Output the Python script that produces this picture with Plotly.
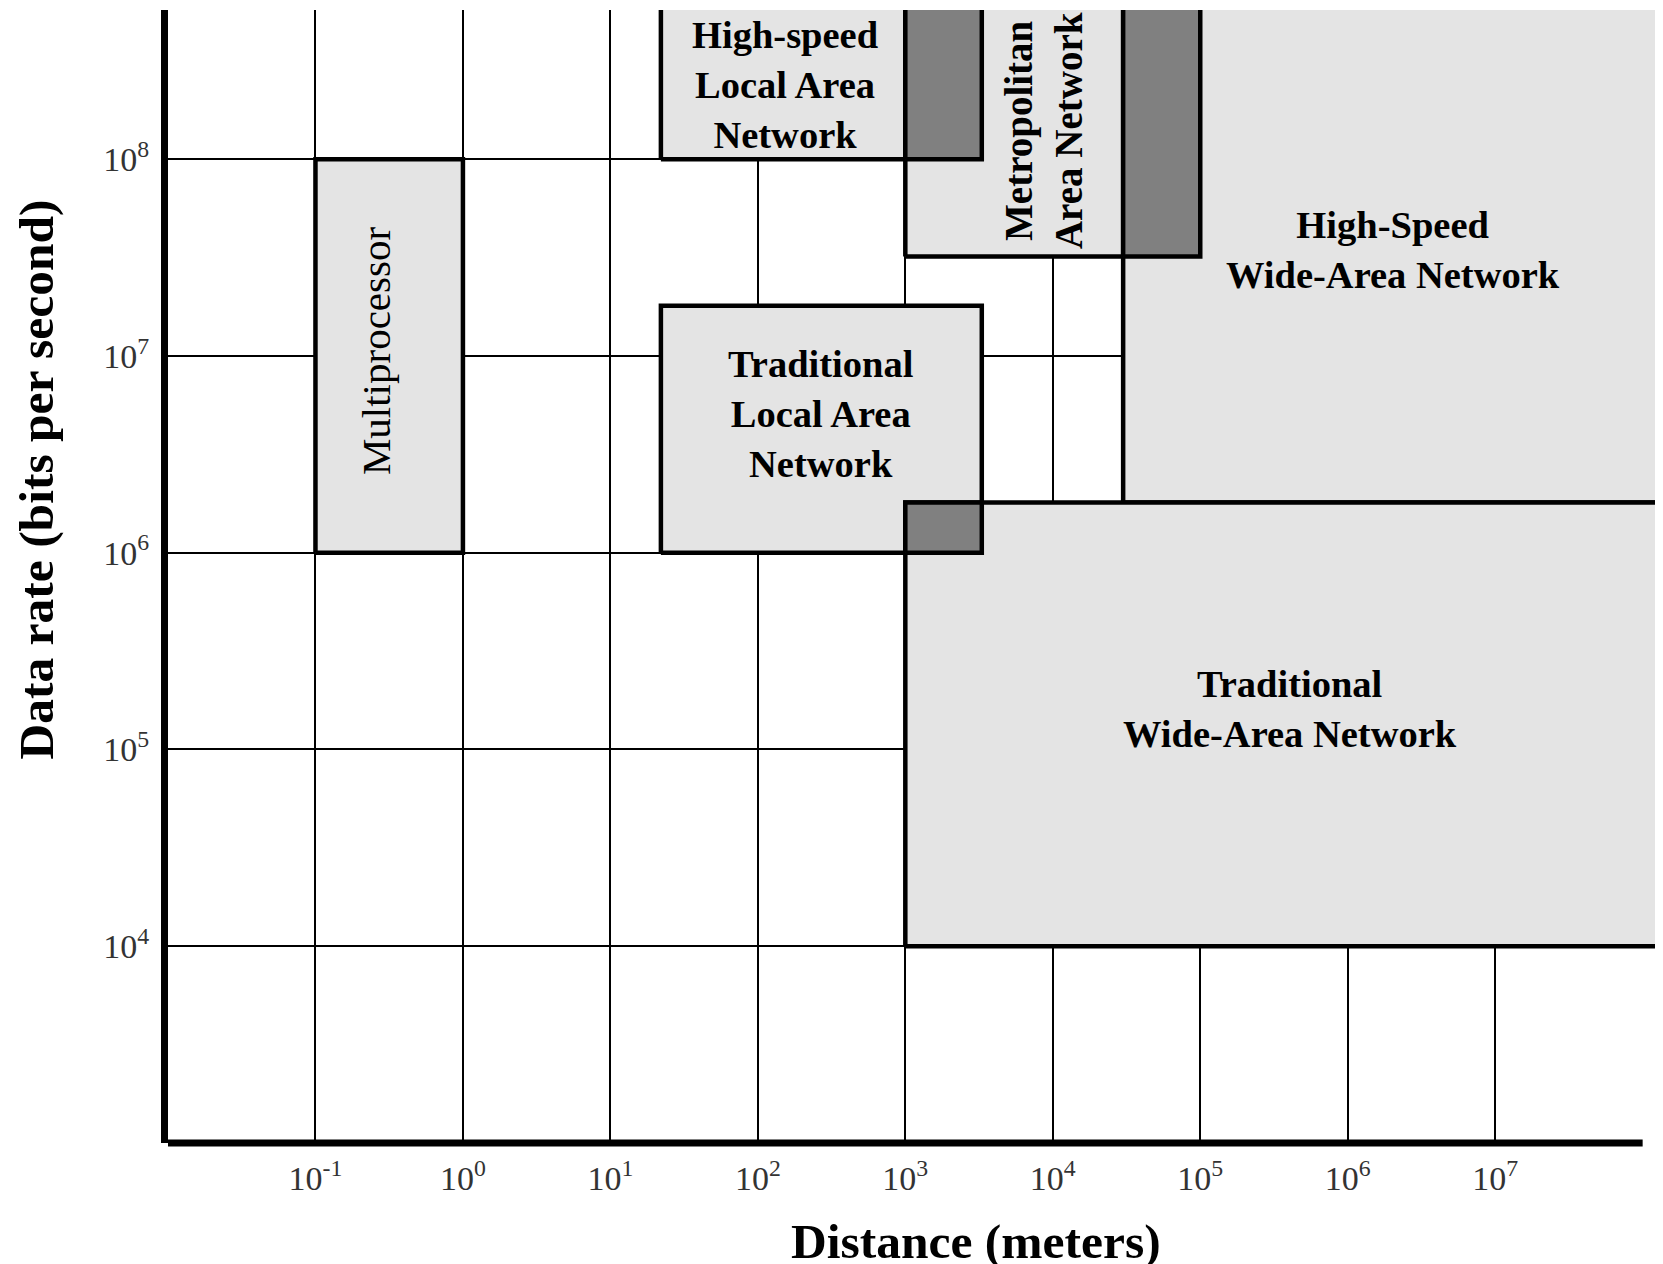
import math
import plotly.graph_objects as go

# ---------------- data ----------------
networks = [
    "Multiprocessor",
    "High-speed<br>Local Area<br>Network",
    "Traditional<br>Local Area<br>Network",
    "Metropolitan<br>Area Network",
    "High-Speed<br>Wide-Area Network",
    "Traditional<br>Wide-Area Network",
]
INF = float("inf")
dist_min = [0.1, 22, 22, 1000, 30000, 1000]          # meters
dist_max = [1, 3300, 3300, 100000, INF, INF]          # meters (inf = open ended)
rate_min = [1e6, 1e8, 1e6, 3.2e7, 1.8e6, 1e4]         # bits per second
rate_max = [1e8, INF, 1.8e7, INF, INF, 1.8e6]         # bits per second

x_tick_exp = [-1, 0, 1, 2, 3, 4, 5, 6, 7]
y_tick_exp = [4, 5, 6, 7, 8]
x_axis_end_exp = 8

# ---------------- style ----------------
X_RANGE = [-2, 8.138]
Y_RANGE = [3, 8.758]
LIGHT = "#e4e4e4"
DARK = "#808080"
SERIF = "Liberation Serif, Times New Roman, serif"
label_style = {
    0: dict(xshift=-13, yshift=5, angle=-90, weight="normal", size=41),
    1: dict(xshift=-36, yshift=0, angle=0, weight="bold", size=38.5),
    2: dict(xshift=0, yshift=15, angle=0, weight="bold", size=38.5),
    3: dict(xshift=-9, yshift=3, angle=-90, weight="bold", size=39),
    4: dict(xshift=0, yshift=6, angle=0, weight="bold", size=38.5),
    5: dict(xshift=6, yshift=15, angle=0, weight="bold", size=38.5),
}

def fin_x(v):
    return 10 ** (X_RANGE[1] + 1) if math.isinf(v) else v

def fin_y(v):
    return 10 ** (Y_RANGE[1] + 1) if math.isinf(v) else v

fig = go.Figure()

def rect_trace(x0, x1, y0, y1, color):
    return go.Scatter(
        x=[x0, x1, x1, x0, x0], y=[y0, y0, y1, y1, y0],
        mode="lines", fill="toself", fillcolor=color,
        line=dict(color="black", width=4.5), hoverinfo="skip", showlegend=False,
    )

n = len(networks)
for i in range(n):
    fig.add_trace(rect_trace(fin_x(dist_min[i]), fin_x(dist_max[i]),
                             fin_y(rate_min[i]), fin_y(rate_max[i]), LIGHT))

# overlapping regions in dark grey
for i in range(n):
    for j in range(i + 1, n):
        x0 = max(dist_min[i], dist_min[j]); x1 = min(dist_max[i], dist_max[j])
        y0 = max(rate_min[i], rate_min[j]); y1 = min(rate_max[i], rate_max[j])
        if x1 > x0 and y1 > y0:
            fig.add_trace(rect_trace(fin_x(x0), fin_x(x1), fin_y(y0), fin_y(y1), DARK))

# labels at the centre of the visible part of each region
for i in range(n):
    lx0 = max(math.log10(dist_min[i]), X_RANGE[0])
    lx1 = min(math.log10(fin_x(dist_max[i])), X_RANGE[1])
    ly0 = max(math.log10(rate_min[i]), Y_RANGE[0])
    ly1 = min(math.log10(fin_y(rate_max[i])), Y_RANGE[1])
    st = label_style[i]
    fig.add_annotation(
        x=(lx0 + lx1) / 2, y=(ly0 + ly1) / 2, xref="x", yref="y",
        text=networks[i], showarrow=False, textangle=st["angle"],
        xshift=st["xshift"], yshift=st["yshift"],
        font=dict(family=SERIF, size=st["size"], color="black", weight=st["weight"]),
    )

# x axis line (stops at 10^8 while regions continue)
fig.add_shape(type="line", xref="x", yref="paper",
              x0=10 ** X_RANGE[0], x1=10 ** x_axis_end_exp, y0=0, y1=0,
              line=dict(color="black", width=7), layer="above")

fig.update_xaxes(
    type="log", range=X_RANGE,
    tickvals=[10 ** e for e in x_tick_exp],
    ticktext=[f"10<sup>{e}</sup>" for e in x_tick_exp],
    showgrid=True, gridcolor="black", gridwidth=2,
    showline=False, zeroline=False, ticks="",
    ticklabelstandoff=12,
    tickfont=dict(family=SERIF, size=34, color="#333"),
)
fig.update_yaxes(
    type="log", range=Y_RANGE,
    tickvals=[10 ** e for e in y_tick_exp],
    ticktext=[f"10<sup>{e}</sup>" for e in y_tick_exp],
    showgrid=True, gridcolor="black", gridwidth=2,
    showline=True, linecolor="black", linewidth=7, zeroline=False, ticks="",
    ticklabelstandoff=5,
    tickfont=dict(family=SERIF, size=34, color="#333"),
)

fig.add_annotation(
    text="Distance (meters)", xref="paper", yref="paper",
    x=0.5403, y=0, yshift=-98, xanchor="center", yanchor="middle",
    showarrow=False, font=dict(family=SERIF, size=49.5, color="black", weight="bold"),
)
fig.add_annotation(
    text="Data rate (bits per second)", xref="paper", yref="paper",
    x=0, xshift=-131, y=0.5856, xanchor="center", yanchor="middle",
    textangle=-90, showarrow=False,
    font=dict(family=SERIF, size=49.5, color="black", weight="bold"),
)

# page body adds an 8px margin, so the figure is 8px smaller than the window
fig.update_layout(
    width=1655, height=1256,
    margin=dict(l=160, r=0, t=2, b=121),
    plot_bgcolor="white", paper_bgcolor="white",
    showlegend=False, hovermode=False,
)

fig.write_html("out.html")
